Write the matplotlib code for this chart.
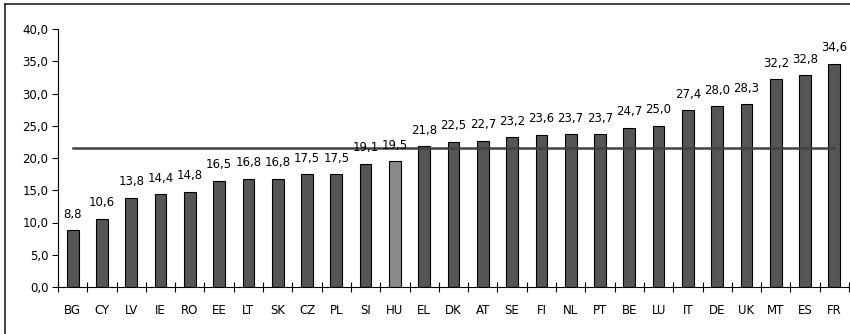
import matplotlib
matplotlib.use("Agg")
import matplotlib.pyplot as plt
from matplotlib.lines import Line2D
from matplotlib.ticker import FixedLocator, NullFormatter, FixedFormatter

countries = ["BG", "CY", "LV", "IE", "RO", "EE", "LT", "SK", "CZ", "PL", "SI", "HU",
             "EL", "DK", "AT", "SE", "FI", "NL", "PT", "BE", "LU", "IT", "DE", "UK",
             "MT", "ES", "FR"]
values = [8.8, 10.6, 13.8, 14.4, 14.8, 16.5, 16.8, 16.8, 17.5, 17.5, 19.1, 19.5,
          21.8, 22.5, 22.7, 23.2, 23.6, 23.7, 23.7, 24.7, 25.0, 27.4, 28.0, 28.3,
          32.2, 32.8, 34.6]
eu_average = 21.6
highlight = "HU"

yticks = [0, 5, 10, 15, 20, 25, 30, 35, 40]

W, H, DPI = 850, 334, 100
fig = plt.figure(figsize=(W / DPI, H / DPI), dpi=DPI)
fig.patch.set_facecolor("white")

ax = fig.add_axes([58 / W, (H - 287) / H, (849 - 58) / W, (287 - 29) / H])

font = "DejaVu Sans"
fs = 8.5

n = len(countries)
x = list(range(n))
colors = ["#8a8a8a" if c == highlight else "#555555" for c in countries]
ax.bar(x, values, width=0.4, color=colors, edgecolor="black", linewidth=0.8, zorder=2)

# EU average line across all categories
ax.plot([0, n - 1], [eu_average, eu_average], color="#404040", linewidth=1.8, zorder=3)

for xi, v in zip(x, values):
    ax.annotate(f"{v:.1f}".replace(".", ","), xy=(xi, v), xytext=(0, 9),
                textcoords="offset points", ha="center", va="baseline",
                fontsize=fs, family=font, color="black", zorder=4)

ax.set_xlim(-0.5, n - 0.5)
ax.set_ylim(0, 40)

ax.set_yticks(yticks)
ax.set_yticklabels([f"{t:.1f}".replace(".", ",") for t in yticks],
                   fontsize=fs, family=font)
ax.tick_params(axis="y", direction="out", length=4, width=0.8, pad=3)

# tick marks between categories, labels at category centres
ax.xaxis.set_major_locator(FixedLocator([i - 0.5 for i in range(n + 1)]))
ax.xaxis.set_major_formatter(NullFormatter())
ax.xaxis.set_minor_locator(FixedLocator(x))
ax.xaxis.set_minor_formatter(FixedFormatter(countries))
ax.tick_params(axis="x", which="major", direction="inout", length=7, width=0.8)
ax.tick_params(axis="x", which="minor", length=0, pad=12, labelsize=fs)
for lbl in ax.get_xticklabels(minor=True):
    lbl.set_family(font)

for side in ("top", "right"):
    ax.spines[side].set_visible(False)
for side in ("left", "bottom"):
    ax.spines[side].set_linewidth(0.8)
    ax.spines[side].set_color("black")

# outer frame (left and top edges)
fig.add_artist(Line2D([4.5 / W, 4.5 / W], [0, (H - 4) / H], transform=fig.transFigure,
                      color="#222222", linewidth=1.2))
fig.add_artist(Line2D([4.5 / W, 1], [(H - 4) / H, (H - 4) / H], transform=fig.transFigure,
                      color="#222222", linewidth=1.2))

fig.savefig("out.png", dpi=DPI)
